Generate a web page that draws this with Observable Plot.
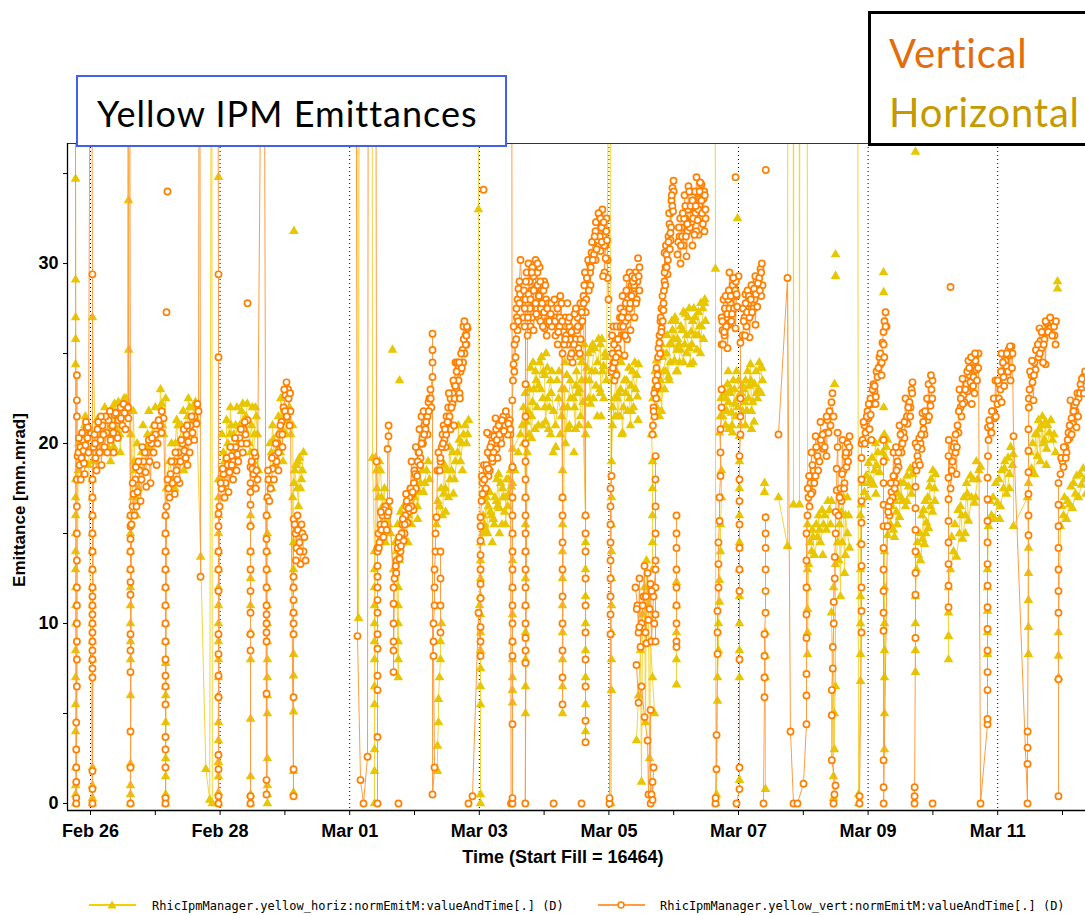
<!DOCTYPE html>
<html><head><meta charset="utf-8">
<script src="https://cdn.jsdelivr.net/npm/d3@7"></script>
<script src="https://cdn.jsdelivr.net/npm/@observablehq/plot@0.6"></script>
<style>
html,body{margin:0;padding:0;background:#fff;}
#wrap{position:relative;width:1085px;height:915px;overflow:hidden;background:#fff;}
#wrap svg.plot{position:absolute;left:0;top:0;}
#over{position:absolute;left:0;top:0;pointer-events:none;}
</style></head>
<body><div id="wrap"></div>
<script>
// Time is in days since 2012-02-26 00:00, values in mm.mrad. null = break in the trace.
const startDay = Date.UTC(2012, 1, 26);
const xTickLabels = ["Feb 26","Feb 28","Mar 01","Mar 03","Mar 05","Mar 07","Mar 09","Mar 11"];
const xTickLabelDays = [0,2,4,6,8,10,12,14];
const xMinorDays = [0,1,2,3,4,5,6,7,8,9,10,11,12,13,14,15];
const yTicks = [0,5,10,15,20,25,30,35];
const yTickLabels = [0,10,20,30];

const horizontal = [
 [-0.25,60],[-0.23,34.7],[-0.23,29.1],[-0.23,27],[-0.23,25.8],[-0.23,24.4],[-0.23,18],[-0.23,17],[-0.23,16],[-0.23,15],[-0.23,14],[-0.23,13],[-0.23,12],[-0.23,11],[-0.23,10],[-0.23,8.5],[-0.23,7],[-0.23,5.5],[-0.23,4],[-0.23,2],[-0.23,1],[-0.23,0.5],[-0.23,0],
 [-0.19,18.5],[-0.15,20.5],[-0.12,19],[-0.09,21],[-0.08,21.5],[-0.06,19.5],[-0.03,20.8],
 [0.03,0],[0.03,0.3],[0.03,1],[0.03,2],[0.03,8],[0.03,9],[0.03,10],[0.03,11],[0.03,12],[0.03,13],[0.03,14],[0.03,15],[0.03,16],[0.03,17],[0.03,18],[0.03,19],[0.03,27],
 [0.08,19],[0.12,20],[0.15,21],[0.2,19.5],[0.25,21.5],[0.29,20.5],[0.31,19],[0.34,22],[0.39,20.8],[0.43,22.3],[0.46,19.5],[0.48,21],[0.52,22.5],[0.57,21.5],
 [0.58,60],[0.586,33.5],[0.59,25.2],
 [0.617,16],[0.617,15],[0.617,14],[0.617,13],[0.617,12],[0.617,11],[0.617,10],[0.617,9],[0.617,8],[0.617,6],[0.617,2.2],[0.617,1],[0.617,0.5],[0.617,0],
 [0.62,20.5],[0.65,17],[0.66,21.8],[0.69,18.5],[0.71,16],[0.74,17.5],[0.79,19.5],[0.83,18.5],[0.88,20.5],[0.93,19.5],[0.97,21],[1.02,20],[1.07,22],[1.08,23],[1.11,21],[1.16,22.5],
 [1.16,0],[1.16,0.5],[1.16,1.5],[1.16,2.5],[1.16,4.5],[1.16,6],[1.16,6.5],[1.16,7.8],[1.16,9],[1.16,10],[1.16,11],[1.16,12],[1.16,13],[1.16,14],[1.16,15],[1.16,16],
 [1.17,17.5],[1.22,19],[1.27,18],[1.31,20],[1.33,21.3],[1.36,19],[1.4,21],[1.45,20],[1.5,21.5],[1.51,22.5],[1.54,20.5],[1.59,22],[1.64,21.3],
 [1.7,13.7],[1.78,1.9],[1.84,0.2],[1.87,60],[1.88,0],
 [1.975,0],[1.975,0.6],[1.975,1.5],[1.975,2.3],[1.975,3.5],[1.975,4.5],[1.975,6],[1.975,7],[1.975,8],[1.975,9],[1.975,10],[1.975,11],[1.975,12],[1.975,13],[1.975,14],[1.975,15],[1.975,16],[1.975,17],[1.975,18],
 [2.01,18],[2.05,19.5],[2.1,18.5],[2.1,21.3],[2.15,20.5],[2.16,22],[2.19,19.5],[2.24,21],[2.28,20],[2.33,21.8],[2.38,20.8],[2.42,22.2],
 null,[1.975,34.8],null,
 [2.47,0],[2.47,0.5],[2.47,1.5],[2.47,4.7],[2.47,8],[2.47,9.5],[2.47,11],[2.47,12.5],[2.47,14],[2.47,15.5],[2.47,16],
 [2.45,20],[2.485,21],[2.515,19],[2.546,22],[2.577,20.5],[2.593,18.5],
 null,
 [2.73,0],[2.73,0.5],[2.73,1],[2.73,2.5],[2.73,5],[2.73,6],[2.73,7],[2.73,8],[2.73,9],[2.73,10],[2.73,11],[2.73,12],[2.73,13],[2.73,14],[2.73,15],[2.73,16],[2.73,17],
 [2.75,18],[2.79,19.5],[2.81,21],[2.84,18.8],[2.89,20.5],[2.93,19.5],[2.935,22.5],[2.98,21.5],[3.02,20.5],[3.07,22],[3.12,21],
 [3.133,14.5],[3.133,13],[3.133,12],[3.133,10.6],[3.133,8.3],[3.133,7.1],[3.133,5.1],[3.133,1.8],[3.133,0.6],
 [3.12,17],[3.15,18.5],[3.19,17.5],[3.21,16.5],[3.225,19.2],[3.256,18],[3.287,19.5],
 null,[3.14,31.8],null,
 [4.12,60],[4.136,10.3],[4.151,60],[4.345,60],[4.352,19.2],
 [4.383,14],[4.383,13],[4.383,12],[4.383,11],[4.383,10],[4.383,9],[4.383,8],[4.383,6.5],[4.383,5.5],[4.383,3],[4.383,1.8],[4.383,0],
 [4.398,19.2],[4.414,18.5],[4.444,17],[4.46,19],[4.475,18.5],[4.506,16.5],[4.537,17.5],[4.552,14.5],[4.568,15.5],[4.599,16.5],[4.63,15],
 [4.676,13],[4.722,14],[4.75,7],[4.75,8],[4.75,9],[4.75,10],[4.75,11],[4.75,12],[4.769,13.5],[4.784,16.2],[4.815,15],[4.861,14.5],[4.907,16],[4.954,15.5],[5,17],[5.015,18.3],[5.046,16.5],[5.093,17.8],[5.139,17.3],[5.185,18.5],[5.231,18],
 null,[5.355,1.8],[5.355,3.2],[5.37,4.5],[5.37,5.8],[5.386,7],[5.401,8],[5.401,9],[5.417,10],null,
 [5.34,15.5],[5.386,16.5],[5.432,16],[5.463,18.8],[5.478,17.5],[5.525,17],[5.54,19.8],[5.571,18.5],[5.617,18],[5.664,19.5],[5.679,21],[5.71,19],[5.756,20.5],[5.802,20],[5.833,21.3],
 null,[4.66,25.2],null,[4.769,23.5],null,
 [5.972,60],[5.988,33],[6.003,11],
 [6.019,10.5],[6.019,9.5],[6.019,8.5],[6.019,7.5],[6.019,6.5],[6.019,5.5],[6.019,0.5],[6.019,0],[6.019,11.5],[6.019,12.5],[6.019,13.5],[6.019,14.5],
 [6.034,14.5],[6.08,15.5],[6.111,17],[6.127,15],[6.173,16.2],[6.219,15.8],[6.265,16.8],[6.296,18.3],[6.312,16.4],[6.358,17.5],[6.404,17],[6.405,15.5],[6.451,18],[6.497,17.6],
 null,
 [6.512,5.6],[6.512,6.3],[6.512,7],[6.512,8],[6.512,9],[6.512,10.5],[6.512,12],[6.512,13.5],[6.512,15],[6.512,17.8],[6.512,18.8],[6.512,19.7],
 [6.636,20.5],[6.682,22],
 [6.713,17],[6.713,15.5],[6.713,14],[6.713,12.5],[6.713,11],[6.713,9.5],[6.713,8],[6.713,6.5],[6.713,5],
 [6.728,21.2],[6.775,23],[6.806,20.3],[6.821,22.3],[6.867,24],[6.914,23.2],[6.96,24.8],[7.006,23.8],[7.022,21.2],[7.052,22.5],[7.099,23.5],[7.145,21.8],
 [7.176,21],[7.222,22.5],[7.269,21.5],
 [7.284,18.5],[7.284,17],[7.284,15.5],[7.284,14],[7.284,12.5],[7.284,11],[7.284,9.5],[7.284,8],[7.284,6.5],[7.284,5],
 [7.315,23],[7.33,20],[7.361,22],[7.407,23.5],[7.454,22.5],[7.485,20.8],[7.5,24],[7.546,23],[7.562,21.5],[7.577,24.5],
 [7.639,16],[7.639,14.5],[7.639,13],[7.639,11.5],[7.639,10],[7.639,8.5],[7.639,7],[7.639,5.5],[7.639,4],
 [7.64,23.5],[7.685,25],[7.716,22.2],[7.732,24],[7.778,25.3],[7.824,24.5],[7.87,25.5],[7.871,22.8],[7.917,24.3],[7.963,23.5],
 [8.025,60],[8.033,0],[8.04,6.3],[8.04,8],[8.04,9.5],[8.04,11],[8.04,12.5],[8.04,14],[8.04,15.5],[8.04,17],[8.04,19],
 [8.056,21],[8.086,22.5],[8.117,24],[8.133,21.5],[8.179,23],[8.21,20.6],[8.225,22],[8.272,23.5],[8.318,22.5],[8.333,21],[8.364,24],[8.41,23],[8.457,24.4],
 null,
 [8.426,3.5],[8.457,6],[8.488,8.5],[8.503,1.2],[8.519,10.5],[8.549,12],[8.565,4.5],[8.58,13.5],[8.611,11],[8.627,2.5],[8.642,9],[8.673,7],[8.704,5],
 null,
 [8.673,13],[8.673,14.5],[8.673,16],[8.673,17.5],[8.673,19],
 [8.657,20.5],[8.704,21.5],[8.735,24.6],[8.75,22.5],[8.796,23.5],[8.812,21.8],[8.843,24],[8.889,25],[8.92,23.7],[8.935,25.5],[8.981,26.3],[9.012,24.6],[9.028,26.8],[9.059,25.8],
 null,
 [9.043,6.6],[9.043,8],[9.043,9.5],[9.043,11],[9.043,12.3],null,
 [9.059,24],[9.105,25.2],[9.151,24.5],[9.182,27.2],[9.198,26],[9.244,25.3],[9.259,24.4],[9.29,26.8],[9.336,26],[9.383,27.3],[9.414,25],[9.429,26.5],[9.475,27.8],
 null,
 [9.63,60],[9.645,29.7],[9.65,0],[9.66,0.5],[9.676,5.7],[9.676,7],[9.691,8.5],[9.691,10],[9.707,11.2],[9.707,12.4],[9.722,14],[9.722,15.5],[9.738,17],[9.738,18.5],
 [9.707,20.6],[9.753,21.5],[9.799,21],[9.83,23.3],[9.846,22.3],[9.892,21.7],[9.907,20.6],[9.938,23],[9.985,22.5],[10,23.5],
 null,[9.985,32.5],null,
 [10.015,1.3],[10.015,7],[10.015,8.5],[10.015,10],[10.015,11.5],[10.015,13],[10.015,14.5],[10.015,16],[10.015,17.5],[10.015,19],
 [10.015,20.4],[10.062,21.8],[10.108,21],[10.109,23.5],[10.154,22.5],[10.185,24.4],[10.201,21.8],[10.247,23.3],[10.293,22.5],[10.34,24.2],[10.37,23.5],
 null,[10.401,17.3],[10.402,17.8],null,[10.417,0.8],[10.417,7],[10.417,8.2],[10.417,9.5],null,
 [10.617,17],[10.756,14.3],[10.764,60],[10.841,60],[10.849,16.6],[10.856,60],[10.934,60],[10.941,16.6],[10.949,60],[11.057,60],[11.065,15.5],
 [11.065,13],[11.065,12],[11.065,10.8],[11.065,9.5],[11.065,8.3],
 [11.08,13.3],[11.127,14],[11.142,15.2],[11.173,13.8],[11.219,14.8],[11.235,16],[11.265,14.5],[11.312,15.5],[11.358,15.2],[11.404,16.3],[11.435,16.8],
 null,
 [11.435,10.6],[11.466,0.3],[11.466,1.5],[11.466,12],[11.481,3],[11.481,5],[11.497,6.5],[11.497,13.3],[11.528,14.5],[11.559,15.5],[11.574,11.5],[11.589,16.2],[11.62,17],[11.636,12.8],[11.651,16],[11.682,15],[11.713,14.2],
 null,[11.497,30.5],null,[11.498,29.3],null,[11.482,23.3],null,
 [11.836,60],[11.852,0],[11.853,0.5],
 [11.883,6.8],[11.883,8.3],[11.883,10],[11.883,11.5],[11.883,13],[11.883,14.5],[11.883,16],
 [11.898,16.6],[11.944,17.3],[11.991,17],[12.006,18.9],[12.037,18],[12.083,17.7],[12.114,20],[12.13,18.8],[12.176,18.4],[12.222,19.5],[12.269,19.2],[12.299,20.2],
 null,[12.238,29.5],null,[12.24,28.4],null,[12.241,22],null,
 [12.253,3],[12.253,5],[12.253,7],[12.253,8.5],[12.253,10],[12.253,12],[12.253,14],
 [12.299,14.9],[12.346,15.5],[12.392,15.2],[12.407,14.8],[12.438,16.2],[12.485,15.9],[12.5,17.8],[12.531,16.8],[12.577,16.5],[12.623,17.6],[12.67,17.2],[12.685,18.3],
 null,[12.731,36.2],null,
 [12.731,7.3],[12.731,8.5],[12.731,10],[12.731,11.5],
 [12.747,13],[12.778,13.8],[12.809,13.5],[12.84,14.7],[12.855,16.3],[12.87,14.4],[12.901,15.6],[12.932,15.3],[12.948,17.6],[12.963,16.5],[12.994,16.2],[13.025,17.5],[13.04,18.3],
 null,
 [13.241,8],[13.241,9.3],[13.241,10.6],[13.241,12],
 [13.272,13],[13.318,14],[13.364,13.7],[13.41,15],[13.426,16.5],[13.457,14.7],[13.503,16],[13.519,17.8],[13.549,15.7],[13.596,17],[13.642,16.7],[13.688,18],[13.735,18.7],
 null,
 [13.843,8.3],[13.843,9.5],[13.843,10.7],[13.843,12],[13.843,13],
 [13.858,15.4],[13.904,16],[13.951,15.8],[13.997,16.7],[14.043,16.5],[14.09,17.5],[14.105,18.6],[14.136,17.2],[14.182,18.3],[14.228,18.8],[14.24,19.4],[14.244,15.4],[14.46,17],
 [14.475,14.2],[14.475,12.8],[14.475,11.3],[14.475,9.8],[14.475,8.3],
 [14.475,17.8],[14.522,18.6],[14.568,18.3],[14.583,20.5],[14.614,19.3],[14.63,21.3],[14.66,19],[14.676,21],[14.707,20],[14.738,21.2],[14.753,19.7],[14.799,20.6],[14.846,20.2],[14.892,19.5],
 null,[14.923,29],null,[14.924,28.6],null,
 [14.938,7],[14.938,8.2],[14.938,9.5],
 [14.969,15.4],[15.015,16],[15.062,15.8],[15.108,16.6],[15.154,16.4],[15.2,17.2],[15.247,17],[15.293,17.7],[15.34,18]
];

// further horizontal samples inside the dense store clusters (drawn as markers)
const horizontalDense = [
 [-0.18,20],[-0.14,19.5],[-0.1,20],[-0.05,21],[-0.04,18.8],
 [0.1,21.3],[0.18,20.5],[0.22,22],[0.27,19.8],[0.32,21],[0.37,22.2],[0.41,21.5],[0.45,20.5],[0.5,21.8],[0.55,22.5],[0.14,19.5],[0.36,19.8],
 [0.67,19],[0.72,20],[0.76,18.5],[0.81,21],[0.86,19.8],[0.9,21.8],[0.95,20.5],[1,22],[1.04,21.2],[1.1,22.2],[1.13,20.5],[0.7,17],
 [1.2,18],[1.25,20],[1.29,19],[1.35,21],[1.38,20.2],[1.43,21.8],[1.47,21],[1.53,22],[1.57,21.3],[1.62,22.3],[1.3,17.5],[1.44,18.5],
 [2.03,20.5],[2.07,19],[2.12,20],[2.17,21],[2.21,20.5],[2.26,22],[2.3,21],[2.35,22.2],[2.4,21.5],[2.06,17.5],[2.2,18.5],
 [2.47,19.5],[2.5,22],[2.53,20.5],[2.56,21.5],[2.5,17.5],
 [2.77,20],[2.82,20.2],[2.86,19.5],[2.9,21.5],[2.95,20.8],[3,22],[3.04,21.3],[3.09,20.5],[2.8,17.5],[2.97,19],
 [3.14,17.8],[3.17,18.8],[3.2,19],[3.24,17.5],[3.27,18.5],
 [4.42,17.5],[4.45,18.5],[4.49,17],[4.52,16],[4.56,16.5],[4.6,15.5],[4.48,15.5],
 [4.7,14.5],[4.74,15.5],[4.8,15],[4.83,16.5],[4.88,15.8],[4.93,17],[4.97,16.5],[5.03,17.8],[5.07,17.3],[5.12,18.5],[5.16,17.8],[5.21,19],[4.9,14.5],[5.05,15.8],
 [5.36,16.8],[5.41,17.5],[5.45,17.2],[5.5,18.5],[5.55,18],[5.59,19.5],[5.63,19],[5.69,20.2],[5.73,20],[5.78,21],[5.82,20.5],[5.48,16.2],[5.6,17.2],[5.74,18.5],
 [6.06,16],[6.1,15.2],[6.14,16.5],[6.19,16],[6.24,17],[6.28,16.5],[6.33,17.8],[6.37,17],[6.42,18],[6.46,17.2],[6.2,14.5],[6.35,15.5],
 [6.05,15],[6.09,16.8],[6.16,17.3],[6.23,15.5],[6.27,18],[6.31,15],[6.39,16.2],[6.44,16.5],[6.48,18.5],
 [6.55,18.5],[6.6,19.5],[6.66,21],[6.75,21.8],[6.79,24.2],[6.84,23],[6.89,22],[6.93,24.5],[6.98,22.5],[7.03,25],[7.08,22],[7.12,24],[6.86,20.8],[6.97,21],[7.1,20.5],
 [6.68,20],[6.71,22.8],[6.74,19.5],[6.77,20.5],[6.81,21.5],[6.83,24.5],[6.88,23.5],[6.91,21],[6.95,23],[6.99,24],[7.01,22],[7.05,24.2],[7.07,20.8],[7.11,22.8],[7.14,19.5],
 [7.2,23.5],[7.25,20.5],[7.3,22],[7.35,23.8],[7.39,21],[7.43,24.5],[7.47,22],[7.52,22.8],[7.56,24.8],[7.6,22.3],[7.66,24.2],[7.7,23.5],[7.75,25.5],[7.8,23.2],[7.84,25.8],[7.9,24],[7.94,25],[7.46,19.5],[7.68,21],[7.88,21.5],
 [7.18,19.8],[7.23,24],[7.27,23],[7.32,24.5],[7.37,20.8],[7.41,22.5],[7.45,25],[7.49,23.2],[7.54,21],[7.58,23.5],[7.62,25.5],[7.64,20.5],[7.69,22.5],[7.72,25.2],[7.76,22.5],[7.79,24],[7.82,21.5],[7.86,23],[7.89,25.8],[7.92,22.5],[7.95,24.8],
 [8.07,23.5],[8.1,21.5],[8.15,22.8],[8.19,24.5],[8.24,23.5],[8.29,21.8],[8.34,23.2],[8.38,22],[8.43,23.8],[8.45,21.3],[8.2,20.5],
 [8.06,22],[8.09,23.8],[8.13,22.5],[8.17,21.5],[8.22,24.8],[8.26,22.8],[8.31,24.2],[8.35,21.8],[8.4,24.5],[8.44,22.6],
 [8.68,22.5],[8.72,23.2],[8.77,24],[8.82,24.8],[8.86,23],[8.9,26],[8.95,24.5],[9,25.8],[9.04,24],[8.78,21.5],[8.97,26.8],
 [8.69,20.5],[8.71,24],[8.74,22],[8.79,23],[8.81,25.5],[8.84,25],[8.88,24],[8.93,23.5],[8.96,25.5],[9.02,27],[9.05,25.2],
 [9.08,25.5],[9.13,26.3],[9.17,25.5],[9.22,27],[9.27,26.2],[9.31,27.5],[9.36,25.2],[9.4,26.5],[9.45,27.5],[9.49,26.8],[9.3,24.5],
 [9.09,24.5],[9.11,26.5],[9.15,27.3],[9.2,25],[9.24,27.5],[9.28,25.5],[9.33,27],[9.38,26],[9.42,27.8],[9.46,25.8],[9.48,28],
 [9.73,22.5],[9.78,22.8],[9.82,21.8],[9.87,22.8],[9.92,23.5],[9.96,21.5],[9.99,22],[9.85,20.8],
 [9.72,21.5],[9.76,23],[9.8,22.5],[9.84,24],[9.88,23],[9.9,21],[9.94,22.2],[9.97,24],
 [10.04,22.8],[10.08,23],[10.13,21.8],[10.17,23.2],[10.22,22.3],[10.27,24],[10.31,23],[10.35,22.8],[10.2,20.8],
 [10.03,21],[10.06,23.2],[10.1,22.3],[10.14,24],[10.19,23.5],[10.24,21.2],[10.28,22.8],[10.32,24.5],[10.36,24.2],
 [11.1,14.5],[11.15,14.8],[11.2,15.5],[11.25,15.2],[11.29,16.3],[11.33,16],[11.38,16.8],[11.42,15.5],[11.3,13.8],
 [11.55,13.5],[11.6,14.5],[11.65,13.8],[11.7,16],[11.6,17.5],[11.68,17],
 [11.92,17.8],[11.97,18.2],[12.02,17.8],[12.06,19.2],[12.1,18.5],[12.15,19.5],[12.2,20.2],[12.25,20.5],[12.28,19.8],[12.12,17.2],
 [12.32,16],[12.37,16.5],[12.42,16.8],[12.46,17.2],[12.51,17],[12.55,17.8],[12.6,18.2],[12.65,18.6],[12.45,15.5],[12.6,16.8],
 [12.76,14.5],[12.8,15],[12.83,16],[12.88,16.8],[12.92,17],[12.97,18],[13,18.5],[13.03,16.8],[12.89,15],
 [13.29,14.8],[13.34,15.5],[13.39,16.3],[13.44,16],[13.48,17],[13.53,17.2],[13.58,18.2],[13.62,18],[13.67,19],[13.71,18.5],[13.5,15],[13.66,17],
 [13.88,16.8],[13.93,17],[13.97,17.8],[14.02,18],[14.06,18.5],[14.11,19],[14.16,19.2],[14.2,19.8],[14.03,15.8],[14.18,17.5],
 [14.5,19.5],[14.54,20],[14.6,20.5],[14.64,20.8],[14.69,21.5],[14.72,20.2],[14.77,21],[14.82,21.3],[14.87,20.5],[14.75,18.8],
 [14.99,16.5],[15.03,17],[15.08,16.8],[15.13,17.6],[15.17,17.8],[15.22,18.2],[15.27,18.3],[15.32,18.6],[15.36,17.2]
];

const vertical = [
 [-0.24,60],[-0.22,4.5],[-0.22,3],[-0.22,2],[-0.22,1.2],[-0.22,0.3],[-0.22,0],[-0.21,6.5],[-0.21,8],[-0.21,9],[-0.21,10],[-0.21,11],[-0.21,12],[-0.21,13.5],[-0.21,15],[-0.21,16.5],[-0.21,18],[-0.21,23.8],[-0.21,22.4],[-0.21,21.5],[-0.2,19.3],
 [-0.185,19.5],[-0.17,18.8],[-0.154,19.8],[-0.15,18],[-0.139,19.2],[-0.123,20.2],[-0.108,19.6],[-0.093,20.5],[-0.09,18.3],[-0.077,19.9],[-0.062,20.8],[-0.046,20.3],[-0.031,19.5],
 [0.01,60],[0.03,29.4],[0.03,18],[0.03,17],[0.03,16],[0.03,15],[0.03,14],[0.03,13],[0.03,12],[0.03,11.5],[0.03,11],[0.03,10.5],[0.03,10],[0.03,9.5],[0.03,9],[0.03,8.5],[0.03,8],[0.03,7.5],[0.03,7],[0.03,1.8],[0.03,0.8],[0.03,0],
 [0.046,19.8],[0.062,20.5],[0.077,19.2],[0.093,18.5],[0.108,20.8],[0.139,19.5],[0.154,20.2],[0.17,18.8],[0.185,21],[0.216,19.8],[0.247,20.6],[0.278,21.3],[0.309,20.2],[0.34,21],[0.355,19.5],[0.37,21.6],[0.401,20.5],[0.432,21.3],[0.463,22],[0.494,21],[0.525,21.7],[0.556,22.1],[0.586,21.4],
 [0.6,60],
 [0.617,16],[0.617,15.4],[0.617,14.7],[0.617,14],[0.617,13],[0.617,12.3],[0.617,11.6],[0.617,9.4],[0.617,8.5],[0.617,7.3],[0.617,4],[0.617,2],[0.617,0],
 [0.633,15.5],[0.648,16.5],[0.664,17.2],[0.679,16],[0.694,18],[0.725,17.3],[0.756,18.5],[0.772,16.8],[0.787,18],[0.818,19],[0.849,18.4],[0.88,19.5],[0.91,19],[0.926,17.8],[0.941,20],[0.972,19.5],[1.003,20.5],[1.034,20],[1.065,21],[1.096,20.6],[1.127,21.4],
 [1.157,16],[1.157,15],[1.157,14],[1.157,13],[1.157,12],[1.157,11],[1.157,10],[1.157,9],[1.157,8],[1.157,7.1],[1.157,6.5],[1.157,5.5],[1.157,3.7],[1.157,3],[1.157,2],[1.157,0.3],[1.157,0],
 [1.173,16.5],[1.204,17.5],[1.235,18.3],[1.265,17.8],[1.296,19],[1.327,18.5],[1.358,19.5],[1.373,17.8],[1.389,19],[1.42,20],[1.451,19.6],[1.481,20.5],[1.497,18.8],[1.512,20.1],[1.543,21],[1.574,20.6],[1.605,21.5],[1.636,21.1],[1.667,21.8],
 [1.682,60],[1.698,12.6],null,
 [1.173,27.3],null,[1.188,34],null,
 [1.96,60],[1.975,29.4],[1.975,24.8],[1.975,16.1],[1.975,15.4],[1.975,14],[1.975,13],[1.975,11.8],[1.975,9.4],[1.975,8.3],[1.975,7.1],[1.975,5.9],[1.975,2.7],[1.975,1.9],[1.975,0.4],[1.975,0],
 [1.991,16.5],[2.022,17.5],[2.052,18.3],[2.083,17.8],[2.114,18.8],[2.13,17.3],[2.145,18.4],[2.176,19.3],[2.207,19],[2.238,19.8],[2.253,18.5],[2.269,19.4],[2.299,20.3],[2.33,20],[2.361,20.8],[2.392,20.5],[2.423,21.3],
 null,[2.423,27.8],null,
 [2.469,0],[2.469,0.4],[2.469,8.5],[2.469,9.4],[2.469,10.6],[2.469,11.8],[2.469,13],[2.469,14],[2.469,15.4],[2.469,16.6],[2.469,17.3],[2.469,18.7],
 [2.485,19],[2.515,18.3],[2.546,19.3],[2.55,17.5],[2.577,18],
 [2.67,60],
 [2.716,1.3],[2.716,0.5],[2.716,6.1],[2.716,9],[2.716,9.5],[2.716,10],[2.716,10.5],[2.716,11],[2.716,12],[2.716,13],[2.716,14],[2.716,14.7],
 [2.716,16],[2.731,17],[2.747,18],[2.778,17.5],[2.809,18.6],[2.84,19.3],[2.87,19],[2.886,20],[2.901,18.5],[2.917,20.5],[2.948,21.2],[2.963,19.8],[2.978,22],[3.009,22.7],[3.025,23.4],[3.056,22.5],[3.071,21],[3.086,21.8],
 [3.133,0.4],[3.133,1.9],[3.133,5.9],[3.133,9.4],[3.133,10],[3.133,10.6],[3.133,11.3],[3.133,12],[3.133,12.6],
 [3.133,15.8],[3.164,15],[3.179,14.2],[3.194,16],[3.225,14.5],[3.241,13.3],[3.256,15.5],[3.287,14],[3.318,13.5],
 null,
 [4.09,60],[4.12,9.3],[4.167,1.3],[4.213,0],[4.275,2.6],[4.29,60],[4.398,60],[4.414,19],
 [4.429,14.2],[4.429,13.2],[4.429,12.6],[4.429,12],[4.429,11.3],[4.429,10.6],[4.429,9.4],[4.429,8.6],[4.429,7.1],[4.429,6.3],[4.429,3.7],[4.429,0],
 [4.43,14],[4.444,15],[4.46,14.5],[4.475,15.5],[4.506,16],[4.522,14.8],[4.537,15.5],[4.552,16.5],[4.583,16],[4.585,19.7],[4.599,20.4],[4.6,21],[4.614,16.8],
 [4.676,12],[4.676,11.1],[4.676,10],[4.676,9],[4.676,8.5],[4.676,7.3],
 [4.691,12.5],[4.722,13.5],[4.753,14.5],[4.784,14],[4.815,15.5],[4.846,15],[4.877,16.5],[4.907,16.2],[4.938,17.5],[4.954,19],[4.969,17.2],[4.985,16.3],[5,18.5],[5.031,18.3],[5.062,19.5],[5.077,20.8],[5.093,19.2],[5.108,21.5],[5.123,20.3],[5.154,21],[5.185,21.6],[5.201,20.5],[5.216,22.3],[5.247,23],
 [5.278,23.7],[5.278,24.5],[5.278,25.2],[5.278,26.1],
 [5.278,0.5],[5.309,2],[5.293,8.2],[5.293,9],[5.293,10],[5.309,11],[5.309,12],[5.309,13],[5.324,14],[5.324,15],[5.34,15.9],
 [5.355,18.5],[5.37,19.5],[5.401,19],
 [5.432,20.5],[5.463,20.2],[5.478,19.8],[5.494,21.5],[5.525,21.2],[5.556,22.5],[5.557,20.8],[5.586,22.2],[5.617,23.3],[5.633,24.5],[5.648,23],[5.679,24.2],[5.694,22.8],[5.71,24],[5.741,25.2],[5.756,26.5],[5.772,25],[5.787,26],[5.802,25.5],[5.818,26.4],
 null,[5.401,9.5],[5.401,11],[5.401,12.5],[5.401,14],null,[4.753,0],null,
 [5.833,0],[5.895,0.4],[5.988,10.6],[6.019,8.2],[6.019,9],[6.019,9.8],[6.019,11.4],[6.019,12.2],[6.019,13],[6.019,13.8],[6.019,14.6],[6.019,15.4],[6.019,15.9],
 [6.034,16.8],[6.049,17.8],[6.08,17.3],[6.111,18.5],[6.142,18.2],[6.157,20.5],[6.173,19.3],[6.204,19],[6.235,20],[6.25,21.4],[6.265,19.7],[6.296,20.6],[6.327,20.3],[6.358,21.2],[6.389,20.9],[6.42,21.5],[6.451,21],[6.481,20.5],[6.49,0],
 null,[6.065,34.1],null,
 [6.497,60],[6.512,0],[6.512,0.3],[6.512,4.4],[6.512,8.2],[6.512,9],[6.512,10],[6.512,11],[6.512,12],[6.512,13],[6.512,14],[6.512,15],[6.512,16],[6.512,17],[6.512,18.7],[6.51,22.4],
 [6.528,24.4],[6.543,25.5],[6.559,24.8],[6.56,26.5],[6.574,27.5],[6.589,26.3],[6.59,28],[6.605,28.6],[6.62,29],[6.636,30.2],
 [6.682,27],[6.713,28],
 [6.713,23.3],[6.713,21.5],[6.713,20],[6.713,19],[6.713,18],[6.713,17],[6.713,16],[6.713,15],[6.713,14],[6.713,13],[6.713,12],[6.713,11],[6.713,10],[6.713,9.2],[6.713,8.5],[6.713,7.8],[6.71,0],
 [6.744,27.5],[6.745,26],[6.759,30],[6.775,29],[6.79,26.5],[6.806,28.5],[6.836,29.3],[6.837,26.3],[6.867,28.6],[6.868,30.2],[6.898,29.5],[6.914,27],[6.929,28.3],[6.944,26.8],[6.96,27.8],[6.991,28.5],[7.006,26.4],[7.022,27.3],[7.052,26.8],
 [7.145,27],[7.176,26],[7.207,27.5],[7.238,26.5],[7.269,27.8],
 [7.284,17],[7.284,16],[7.284,14.5],[7.284,13],[7.284,11.5],[7.284,10],[7.284,8.5],[7.284,7],[7.284,5.5],
 [7.285,25],[7.3,26.2],[7.33,27],[7.361,25.5],[7.392,26.5],[7.407,24.8],[7.423,25],[7.454,26.3],[7.485,25.8],[7.515,27],[7.546,26.5],[7.562,25.8],[7.577,27.5],[7.608,28.2],
 [7.639,16],[7.639,15],[7.639,14],[7.639,12.5],[7.639,11],[7.639,9.5],[7.639,8],[7.639,6.5],[7.639,4.6],[7.639,3.4],
 [7.64,28.8],[7.641,27.3],[7.67,29.5],[7.701,30],[7.716,28.8],[7.732,30.6],[7.762,31.2],[7.793,31.8],[7.794,30.2],[7.824,32.3],[7.855,32.7],[7.87,30.7],[7.886,32],[7.917,31.5],[7.932,29.5],[7.948,31],[7.963,32.5],[7.978,30.2],[7.994,28],
 null,[7.146,0],null,[7.578,0],null,
 [8.009,0],[8.01,0.3],[8.025,9.4],[8.025,10.5],[8.025,11.5],[8.025,12.5],[8.025,13.5],[8.025,14.5],[8.025,15.5],[8.025,16.5],[8.025,17.5],[8.04,18.2],
 [8.04,24],[8.056,25],[8.071,24.5],[8.086,23.5],[8.102,25.8],[8.117,23.8],[8.133,25.3],[8.164,26.5],[8.179,27.5],[8.194,26],[8.225,27.3],[8.241,24.9],[8.256,26.8],[8.272,29.2],[8.287,28],[8.318,27.5],[8.333,26.3],[8.349,28.8],[8.38,28.3],[8.395,27],[8.411,29.5],[8.441,29],[8.472,29.8],
 null,
 [8.41,12],[8.441,11],[8.457,9.5],[8.472,12.5],[8.488,8.7],[8.503,10],[8.534,11.5],[8.549,13.2],[8.565,9.5],[8.58,8.9],[8.596,12.8],[8.627,10.8],[8.642,12.2],[8.657,9],[8.688,11.5],[8.719,13],
 null,
 [8.426,7.7],[8.458,5.6],[8.504,6.5],[8.55,4.8],[8.597,3.5],[8.611,0.5],[8.643,5.2],[8.644,0],[8.658,0.5],[8.673,1.2],[8.674,0.2],[8.689,2],
 null,
 [8.673,20.5],[8.688,22],[8.704,21.5],[8.719,23],[8.735,24.2],[8.75,23.8],[8.765,25.3],[8.781,26],[8.796,26.8],[8.812,27.5],[8.813,26.4],[8.827,28.2],[8.843,27.8],[8.858,29],[8.859,30.6],[8.873,29.8],[8.889,30.5],[8.904,31],[8.905,29.4],[8.92,31.5],[8.935,32.2],[8.951,32.8],[8.952,31.3],[8.966,33.5],[8.981,34.2],[8.997,34.6],
 null,[8.719,9],[8.719,10.5],[8.719,12],[8.719,13.5],[8.719,15],[8.719,16.5],[8.719,18],[8.719,19.3],null,
 [9.043,16],[9.043,15],[9.043,14.2],[9.043,13],[9.043,12],[9.043,11],[9.043,10],[9.043,9],[9.043,8.7],null,
 [9.059,30.5],[9.09,31.5],[9.105,30],[9.12,32],[9.151,31],[9.167,33.8],[9.182,32.5],[9.198,30.4],[9.213,31.8],[9.228,34.3],[9.244,33],[9.275,32.3],[9.29,31],[9.306,33.5],[9.336,32.8],[9.352,34.8],[9.367,33.9],[9.383,31.6],[9.398,33.2],[9.429,34.4],[9.46,33.6],[9.475,31.8],[9.491,32.5],
 null,
 [9.645,0],[9.646,0.3],[9.66,1.9],[9.661,3.8],[9.676,8.3],[9.676,9.5],[9.676,10.7],[9.691,12],[9.691,13.3],[9.691,14.5],[9.707,15.7],[9.707,17],[9.722,18.2],[9.722,19.5],[9.722,20.8],[9.738,22],[9.738,23],
 [9.74,25.5],[9.753,26.3],[9.769,28],[9.784,26],[9.815,27],[9.83,25.3],[9.846,26.6],[9.861,29.5],[9.877,27.8],[9.907,27.4],[9.938,28.6],[9.954,26.4],[9.969,28.2],[10,29.3],
 null,[9.954,34.8],null,
 [9.969,0],[10.015,0.8],[10.015,2],[10.015,8],[10.015,11.8],[10.015,13],[10.015,14.2],[10.015,15.5],[10.015,16.8],[10.015,18],[10.015,19.3],[10.03,20.5],[10.03,21.5],[10.03,22.5],[10.03,25.6],
 [10.062,26],[10.093,27],[10.108,28.3],[10.123,26.5],[10.154,27.8],[10.17,25.9],[10.185,27.2],[10.216,28.5],[10.247,28],[10.262,26.6],[10.278,29],[10.309,28.5],[10.34,29.7],[10.37,28.8],
 null,[10.386,0],[10.401,5.9],[10.401,7],[10.401,8.2],[10.401,9.4],[10.417,10.6],[10.417,11.8],[10.417,13],[10.417,14.2],[10.417,15],[10.417,15.9],null,
 [10.42,35.2],null,
 [10.617,20.5],[10.756,29.2],[10.802,4],[10.849,0],[10.91,0],[11.003,1.1],[11.049,4.4],
 [11.049,6],[11.049,7.2],[11.049,9.2],[11.049,10.5],[11.049,12],[11.049,13.5],[11.049,15],
 [11.065,16],[11.08,17],[11.096,16.5],[11.111,17.8],[11.127,19.5],[11.142,17.3],[11.157,18.5],[11.188,18.2],[11.19,20.4],[11.219,19.3],[11.25,19],[11.265,21.2],[11.281,20],[11.312,19.7],[11.343,20.6],[11.358,19.3],[11.373,21.3],[11.404,21.8],[11.435,22.3],[11.466,21.5],
 null,
 [11.466,0],[11.481,0.5],[11.497,1],
 [11.44,2.4],[11.44,4.9],[11.44,6.3],[11.455,7.5],[11.455,8.7],[11.47,10],[11.47,11.2],[11.485,12.5],[11.485,13.7],[11.5,15],[11.5,16.2],[11.515,17.4],[11.515,18.6],[11.53,19.8],[11.53,20.6],
 [11.543,16],[11.574,17.5],[11.589,16.8],[11.605,20.2],[11.62,18.5],[11.636,17.8],[11.651,19.3],[11.667,18.7],[11.682,20],[11.698,19.5],[11.713,20.4],
 null,
 [11.867,0],[11.868,0.4],[11.898,9.5],[11.898,10.7],[11.898,12],[11.898,13.2],[11.898,14.4],[11.898,15.6],[11.898,16.8],[11.898,18],[11.898,19.2],[11.9,20],
 [11.914,20.2],[11.944,21],[11.96,20.6],[11.991,21.8],[12.006,21.4],[12.022,20.8],[12.037,22.5],[12.052,22.2],[12.083,23.3],[12.099,22.9],[12.114,22.2],[12.13,24],[12.145,23.7],[12.176,24.8],[12.191,24.4],[12.207,23.8],[12.222,25.6],[12.238,26.2],[12.253,26.8],[12.269,27.3],[12.284,26.5],
 null,
 [12.238,20.2],[12.238,19],[12.238,17.8],[12.238,16.6],[12.238,15.4],[12.238,14.2],[12.238,13],[12.238,11.8],[12.238,10.6],[12.238,9.6],[12.239,2.4],[12.239,0.9],[12.24,0],
 [12.299,15.4],[12.315,16.5],[12.33,16],[12.361,17.3],[12.377,17],[12.392,19.5],[12.407,18.2],[12.423,17.8],[12.454,19],[12.469,18.7],[12.485,21],[12.5,19.8],[12.515,19.5],[12.546,20.6],[12.562,20.3],[12.577,22.5],[12.593,21.4],[12.608,21.1],[12.639,22.3],[12.654,22],[12.67,23],[12.685,23.4],
 null,
 [12.716,0],[12.717,0.4],[12.718,0.9],[12.731,9.2],[12.731,11.6],[12.731,12.8],[12.731,14],[12.731,15.2],[12.731,16.4],[12.731,17.6],[12.731,18.8],[12.733,20],
 [12.747,18.5],[12.762,19.3],[12.778,19],[12.809,20],[12.824,19.7],[12.84,21.7],[12.855,20.8],[12.87,20.5],[12.901,21.6],[12.917,21.3],[12.932,23.3],[12.948,22.4],[12.963,22.1],[12.978,23],[12.994,23.5],
 null,[12.995,0],null,[13.272,28.7],null,
 [13.241,10.9],[13.241,12.1],[13.241,13.3],[13.241,14.5],[13.241,15.7],[13.241,16.9],[13.241,18.1],[13.241,19.3],[13.245,20.2],
 [13.272,17.5],[13.302,19],[13.333,20],[13.349,19.5],[13.364,18.3],[13.38,21],[13.395,20.6],[13.41,23],[13.426,22],[13.441,21.5],[13.457,23.6],[13.472,22.7],[13.488,22.3],[13.519,23.3],[13.534,22.9],[13.549,24.6],[13.565,23.8],[13.58,23.4],[13.611,24.2],[13.627,23.7],[13.642,22.8],[13.657,24.6],[13.673,24.1],[13.704,25],
 [13.735,0],[13.843,4.4],
 [13.843,4.7],[13.843,6.3],[13.843,7.3],[13.843,8.5],[13.843,9.7],[13.843,10.9],[13.843,12.1],[13.843,13.3],[13.843,14.5],[13.843,15.7],[13.843,16.9],[13.843,18.1],[13.85,19.3],[13.85,20.9],
 [13.858,20.2],[13.889,21],[13.904,20.6],[13.935,21.8],[13.951,21.4],[13.966,23.5],[13.981,22.5],[13.997,22.2],[14.028,23.3],[14.043,23],[14.059,25],[14.074,24],[14.09,23.7],[14.12,24.6],[14.136,24.3],[14.167,25.2],[14.182,24.9],[14.198,23.5],[14.213,25.4],[14.228,25],[14.244,20.4],
 [14.46,0],[14.46,2.2],[14.461,3.1],[14.462,4],
 [14.475,14.9],[14.475,16],[14.475,17.2],[14.475,18.4],[14.475,19.6],[14.475,20.8],[14.48,22],[14.48,22.5],
 [14.491,23],[14.522,23.8],[14.537,23.4],[14.552,22.4],[14.568,24.5],[14.583,24.1],[14.614,25.2],[14.63,24.8],[14.645,26.4],[14.66,25.7],[14.676,25.3],[14.707,26.2],[14.722,25.8],[14.738,24.4],[14.753,26.7],[14.769,26.3],[14.799,26.9],[14.815,26.4],[14.846,26.8],[14.877,26],[14.892,25.5],
 null,
 [14.938,0.4],[14.938,6.9],[14.938,10.6],[14.938,11.8],[14.938,13],[14.938,14.2],[14.938,15.4],[14.938,16.6],[14.938,17.8],
 [14.969,18.3],[15,19],[15.015,18.7],[15.046,19.8],[15.062,19.5],[15.093,20.6],[15.108,20.3],[15.123,22.4],[15.139,21.4],[15.154,21.1],[15.185,22.1],[15.2,21.8],[15.216,20.9],[15.231,22.8],[15.247,22.5],[15.278,23.3],[15.293,23],[15.324,23.7],[15.355,23.5]
];

// further vertical samples inside the dense store clusters (drawn as markers)
const verticalDense = [
 [-0.18,20.3],[-0.13,20.6],[-0.1,18.9],[-0.07,21.2],[-0.04,20.9],
 [0.07,20],[0.12,21.2],[0.2,20.5],[0.23,21.5],[0.26,19.5],[0.3,21.8],[0.35,20.6],[0.39,21.7],[0.42,20.3],[0.47,21.4],[0.51,22.2],[0.54,20.8],[0.58,22],[0.16,21.5],
 [0.65,17.8],[0.7,18.7],[0.74,19],[0.8,19.8],[0.84,19.5],[0.9,20.2],[0.95,20.3],[0.99,21],[1.05,21.3],[1.1,21.8],[0.71,16.5],[0.86,17.6],[1.02,18.8],
 [1.19,18],[1.22,17],[1.25,19],[1.31,19.5],[1.34,18],[1.4,20.2],[1.44,20.8],[1.49,21],[1.53,19.5],[1.56,21.5],[1.6,20.2],[1.65,22.2],[1.3,17.2],[1.47,19.2],
 [2.01,17.8],[2.04,18.6],[2.07,17],[2.1,19.2],[2.16,19.8],[2.2,18],[2.23,20.3],[2.28,19],[2.32,20.8],[2.35,19.5],[2.38,21.2],[2.41,20],[2.18,18.8],
 [2.5,18.6],[2.53,19.5],[2.56,18.5],[2.47,17.8],
 [2.74,18.5],[2.76,16.8],[2.8,19.2],[2.83,18],[2.86,20],[2.9,19.5],[2.93,21],[2.96,20.5],[3,21.8],[3.03,21.5],[3.05,23],[3.08,22.8],[2.99,23],
 [3.15,15.5],[3.2,15.2],[3.23,14],[3.27,15],[3.3,14.8],[3.17,13.5],
 [4.45,14.2],[4.49,15.2],[4.53,16.3],[4.57,15.2],[4.6,16.2],[4.48,16.2],
 [4.71,13.2],[4.74,14.2],[4.77,13.6],[4.8,15],[4.83,14.6],[4.86,16],[4.89,15.6],[4.92,17],[4.95,16.5],[4.99,17.8],[5.02,17.5],[5.05,19],[5.09,18.8],[5.13,20],[5.17,20.8],[5.2,21.5],[5.23,22.5],[5.26,22],[5.02,19.8],[5.14,21.8],[4.87,17.2],
 [4.72,12.8],[4.76,14.8],[4.79,14.3],[4.82,15.8],[4.85,15.5],[4.88,16.8],[4.91,16.4],[4.94,17.5],[4.97,17.3],[5.01,18.3],[5.04,18.2],[5.07,19.5],[5.11,20],[5.15,20.5],[5.18,21.2],[5.22,21.8],[5.25,22.5],
 [5.39,18.5],[5.42,19.8],[5.45,21],[5.49,20.5],[5.52,22],[5.54,21.5],[5.59,22.8],[5.62,22.5],[5.65,24],[5.68,23.5],[5.72,25],[5.75,24.5],[5.79,25.5],[5.81,26.5],[5.61,21],[5.7,22.5],[5.77,26.8],
 [5.4,19.2],[5.44,20],[5.47,20.8],[5.51,21.2],[5.53,22.8],[5.57,22],[5.6,23.5],[5.63,23.2],[5.66,24.5],[5.69,24.5],[5.73,24.2],[5.76,25.8],[5.8,26],
 [6.04,18.2],[6.07,18.8],[6.1,17.5],[6.13,19.5],[6.16,18.5],[6.19,20],[6.22,19.5],[6.26,20.8],[6.3,21],[6.34,20],[6.37,21.5],[6.4,21],[6.44,20.5],[6.47,21.3],[6.12,20.6],[6.28,19.2],
 [6.05,17.2],[6.08,18],[6.11,18.8],[6.14,18.6],[6.17,19.8],[6.2,19.2],[6.23,20.4],[6.27,20.2],[6.31,20.5],[6.35,21.3],[6.38,20.7],[6.41,21.8],[6.45,21.1],[6.48,20.8],
 [6.52,23.5],[6.54,24],[6.57,25.8],[6.58,27],[6.6,26.8],[6.62,27.8],[6.63,28.3],[6.53,26.5],
 [6.69,28.5],[6.7,26.5],[6.73,29.5],[6.76,28.3],[6.78,27.5],[6.81,27],[6.82,29.8],[6.85,27.8],[6.88,27.2],[6.9,28.8],[6.93,29.8],[6.95,27.5],[6.98,26.5],[7,29],[7.03,28],[7.04,26],[7.07,27.8],[7.1,27.2],[7.12,26.5],
 [6.7,27.5],[6.72,29],[6.75,27],[6.79,28],[6.81,29.5],[6.84,28.5],[6.87,27.8],[6.9,30],[6.92,28.2],[6.94,29],[6.97,27.8],[7,27.3],[7.02,28.8],[7.05,27.5],[7.08,26.8],[7.11,27.8],
 [7.16,28],[7.19,27],[7.22,26.2],[7.25,28.2],[7.31,25.5],[7.34,26],[7.37,26.8],[7.4,25.8],[7.44,24.5],[7.47,27.2],[7.5,26.3],[7.53,25.3],[7.56,27.8],[7.59,26.8],[7.62,28.8],[7.65,28],[7.68,30.2],[7.71,29.5],[7.74,31.2],[7.77,30.5],[7.8,32.3],[7.83,31.3],[7.86,31.5],[7.9,33],[7.93,31],[7.96,31.8],[7.98,29.2],[7.91,29.3],
 [7.17,26.8],[7.21,25.5],[7.24,27],[7.28,26.8],[7.33,25.8],[7.36,27.8],[7.39,27],[7.42,26.2],[7.46,25.5],[7.49,27.5],[7.52,26.5],[7.55,25],[7.58,27.3],[7.61,27.8],[7.63,29.5],[7.66,29.2],[7.69,28.5],[7.72,29.8],[7.75,30.2],[7.78,31.5],[7.81,30.8],[7.84,32.8],[7.87,32.5],[7.89,31.2],[7.92,32.3],[7.95,30.3],[7.97,31.3],
 [8.05,26],[8.07,26.5],[8.09,24.5],[8.12,26.5],[8.15,25],[8.18,26.5],[8.21,28.2],[8.23,26],[8.26,27.8],[8.3,28.5],[8.32,29.5],[8.36,29.3],[8.39,28.8],[8.43,28],[8.45,30.3],[8.47,28.5],[8.28,25.8],
 [8.06,24.2],[8.08,25.5],[8.11,24.8],[8.14,25.8],[8.17,27],[8.2,27],[8.22,26.5],[8.25,26],[8.27,28.5],[8.3,27],[8.33,27.8],[8.35,28.2],[8.37,29],[8.4,29.2],[8.42,27.8],[8.46,29.3],
 [8.43,10.8],[8.47,9.8],[8.52,11],[8.57,11.5],[8.61,10.2],[8.66,11.8],[8.7,10],
 [8.68,21],[8.7,22.8],[8.73,22.5],[8.76,24.8],[8.79,25],[8.8,27],[8.83,26.8],[8.85,28.5],[8.87,28.8],[8.88,31],[8.91,30.2],[8.93,32.8],[8.94,30.8],[8.96,32],[8.98,33.2],[9,34],
 [8.69,21.8],[8.72,23.5],[8.75,23.2],[8.78,25.6],[8.81,26.2],[8.84,27.4],[8.86,29.5],[8.89,29.8],[8.92,31.2],[8.95,31.7],[8.97,33.8],[8.99,32.9],
 [9.07,31.2],[9.1,32.5],[9.13,31.5],[9.16,32.5],[9.19,31.5],[9.22,33],[9.25,32],[9.27,34],[9.3,32.5],[9.33,34],[9.35,31.8],[9.38,33],[9.41,34.5],[9.44,32.8],[9.47,34],[9.49,33],
 [9.08,32],[9.11,31],[9.14,32.8],[9.18,33.2],[9.21,32.2],[9.24,34],[9.26,33.2],[9.29,33.5],[9.32,31.6],[9.34,33.2],[9.37,32.4],[9.4,34],[9.43,33.5],[9.45,32.2],[9.48,33.8],
 [9.74,27],[9.76,25.5],[9.79,27.5],[9.81,26.5],[9.84,28],[9.86,27.5],[9.89,26.8],[9.91,28.8],[9.93,27.5],[9.96,29],[9.98,27.6],
 [9.75,26.8],[9.78,26.2],[9.8,28.2],[9.83,27.2],[9.85,28.5],[9.88,28.2],[9.9,27.2],[9.92,29.2],[9.95,28.5],[9.97,28.3],
 [10.07,27.5],[10.1,26],[10.14,28.5],[10.17,27],[10.2,28.8],[10.23,27.5],[10.26,29.3],[10.29,27.6],[10.32,29.2],[10.35,28.2],[10.36,30],
 [10.08,26.8],[10.11,27.8],[10.13,27.3],[10.16,28.2],[10.19,28],[10.21,27.3],[10.24,28.6],[10.27,28.3],[10.3,28.9],[10.33,28.5],[10.35,29.5],
 [11.07,17.5],[11.09,18.2],[11.12,17.2],[11.14,18.8],[11.17,17.8],[11.2,19.8],[11.23,18.5],[11.27,20.2],[11.3,20.5],[11.33,19.8],[11.36,21.5],[11.39,20.6],[11.42,21],[11.45,22.8],
 [11.56,17],[11.6,18.3],[11.63,17.5],[11.66,19.5],[11.69,19],[11.71,19.8],
 [11.93,21.2],[11.95,20],[11.98,21.5],[12.01,22.2],[12.04,21.6],[12.07,23],[12.1,23.2],[12.12,22.6],[12.16,24.2],[12.19,25],[12.21,24.5],[12.24,25.5],[12.27,26.5],[12.25,24.8],[12.05,20.2],
 [12.31,16.2],[12.34,16.8],[12.35,17.8],[12.39,18.2],[12.41,17.5],[12.44,18.5],[12.47,19.5],[12.5,20.5],[12.53,20],[12.56,21.2],[12.6,21.5],[12.62,22],[12.65,21.5],[12.68,22.8],[12.43,19.8],
 [12.76,19.8],[12.79,20.3],[12.82,20.5],[12.85,21.2],[12.88,21.8],[12.91,22.5],[12.94,21.5],[12.97,23.8],[12.99,22.5],[12.8,18.8],
 [13.29,18.5],[13.32,19.8],[13.35,20.5],[13.37,19.8],[13.4,21.8],[13.43,22.5],[13.46,22.2],[13.5,23],[13.53,24],[13.56,24.2],[13.59,24.8],[13.62,23.2],[13.65,25],[13.68,23.5],[13.7,24.2],[13.6,22.2],
 [13.87,21.3],[13.91,21.8],[13.94,22.5],[13.97,21.5],[14,23.5],[14.02,22.5],[14.05,24],[14.08,24.5],[14.1,23.2],[14.14,25],[14.16,24],[14.19,25.4],[14.22,24.2],[14.06,22.3],
 [14.5,24],[14.53,24.6],[14.56,23.8],[14.59,25.2],[14.62,25.5],[14.65,25],[14.68,26.2],[14.71,25.5],[14.74,26.8],[14.78,26.2],[14.81,27],[14.84,26],[14.87,26.5],[14.9,26.8],[14.7,24.5],
 [14.98,19.2],[15.02,19.8],[15.05,19.2],[15.08,20.2],[15.11,21],[15.14,20.5],[15.17,21.8],[15.21,22.3],[15.24,21.5],[15.27,22.8],[15.3,23.6],[15.33,22.8],[15.35,24]
];

const day = d => new Date(startDay + d * 864e5);
const rows = arr => arr.map(p => p ? {t: day(p[0]), v: p[1]} : {t: null, v: null});
const H = rows(horizontal), V = rows(vertical);
const Hdots = H.filter(d => d.v != null).concat(rows(horizontalDense));
const Vdots = V.filter(d => d.v != null).concat(rows(verticalDense));

const xMin = day(-0.355), xMax = day(15.355);
const yMin = -0.39, yMax = 36.67;
const labelDates = xTickLabelDays.map(day);
const labelOf = new Map(xTickLabelDays.map((d, i) => [+day(d), xTickLabels[i]]));

const chart = Plot.plot({
  width: 1085, height: 880,
  marginLeft: 67, marginRight: 0, marginTop: 143, marginBottom: 70,
  x: {type: "utc", domain: [xMin, xMax]},
  y: {domain: [yMin, yMax]},
  style: {fontFamily: "'Liberation Sans', Arial, sans-serif", background: "white", color: "black", overflow: "hidden"},
  marks: [
    Plot.ruleX(labelDates, {stroke: "#000", strokeWidth: 1, strokeDasharray: "1,3"}),
    Plot.line(H, {x: "t", y: "v", stroke: "#F3D43E", strokeWidth: 1, clip: true}),
    Plot.dot(Hdots, {x: "t", y: "v", symbol: "triangle", r: 3.6, fill: "#E8C600", stroke: "none", clip: true}),
    Plot.line(V, {x: "t", y: "v", stroke: "#FF9C42", strokeWidth: 1, clip: true}),
    Plot.dot(Vdots, {x: "t", y: "v", r: 3.1, fill: "white", stroke: "#FF8000", strokeWidth: 1.7, clip: true}),
    Plot.ruleY([yMin], {stroke: "#000", strokeWidth: 1.3}),
    Plot.ruleY([yMax], {stroke: "#333", strokeWidth: 1}),
    Plot.ruleX([xMin], {stroke: "#000", strokeWidth: 1.3}),
    Plot.axisX({ticks: xMinorDays.map(day), tickSize: 5, tickPadding: 9, fontSize: 18, fontWeight: "bold",
      tickFormat: d => labelOf.get(+d) ?? "", label: null}),
    Plot.axisY({ticks: yTicks, tickSize: 4, tickPadding: 5, fontSize: 18, fontWeight: "bold",
      tickFormat: d => yTickLabels.includes(d) ? String(d) : "", label: null})
  ]
});
chart.classList.add("plot");
document.getElementById("wrap").appendChild(chart);

const ns = "http://www.w3.org/2000/svg";
const over = document.createElementNS(ns, "svg");
over.setAttribute("id", "over");
over.setAttribute("width", 1085);
over.setAttribute("height", 915);
over.innerHTML = `
 <rect x="77" y="76" width="429" height="70" fill="white" stroke="#4060F0" stroke-width="2"/>
 <text x="97" y="127" font-family="Lato, 'Open Sans', sans-serif" font-size="36" letter-spacing="1" fill="#000">Yellow IPM Emittances</text>
 <rect x="869.5" y="12.5" width="260" height="132" fill="white" stroke="#000" stroke-width="3"/>
 <text x="889" y="68" font-family="Lato, 'Open Sans', sans-serif" font-size="40" letter-spacing="0.8" fill="#E46C0A">Vertical</text>
 <text x="889" y="127" font-family="Lato, 'Open Sans', sans-serif" font-size="40" letter-spacing="0.8" fill="#C49A00">Horizontal</text>
 <text transform="translate(25,500) rotate(-90)" text-anchor="middle" font-family="'Liberation Sans', Arial, sans-serif" font-weight="bold" font-size="17" fill="#000">Emittance [mm.mrad]</text>
 <text x="563" y="863" text-anchor="middle" font-family="'Liberation Sans', Arial, sans-serif" font-weight="bold" font-size="18" fill="#000">Time (Start Fill = 16464)</text>
 <line x1="89" x2="136" y1="905" y2="905" stroke="#F5D000" stroke-width="2"/>
 <path d="M112,900.5 L116.5,908.5 L107.5,908.5 Z" fill="#E8C600"/>
 <text x="152" y="910" font-family="'DejaVu Sans Mono', monospace" font-size="12" fill="#000">RhicIpmManager.yellow_horiz:normEmitM:valueAndTime[.] (D)</text>
 <line x1="598" x2="645" y1="905" y2="905" stroke="#FF9C42" stroke-width="2"/>
 <circle cx="621" cy="905" r="3" fill="white" stroke="#FF8000" stroke-width="1.5"/>
 <text x="660" y="910" font-family="'DejaVu Sans Mono', monospace" font-size="12" fill="#000">RhicIpmManager.yellow_vert:normEmitM:valueAndTime[.] (D)</text>
`;
document.getElementById("wrap").appendChild(over);
</script>
</body></html>
